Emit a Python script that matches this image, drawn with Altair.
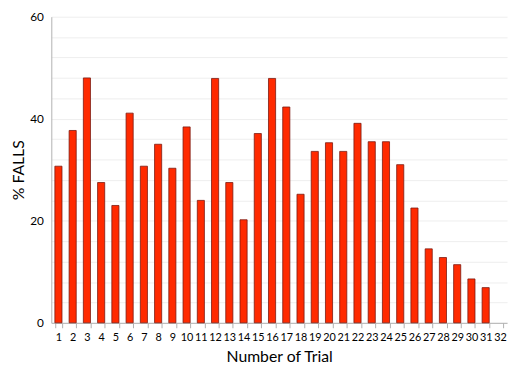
import altair as alt
import pandas as pd

trials = list(range(1, 33))
falls = [30.7, 37.7, 48.0, 27.5, 23.0, 41.1, 30.7, 35.0, 30.3, 38.4,
         24.0, 47.9, 27.5, 20.2, 37.1, 47.9, 42.3, 25.2, 33.6, 35.3,
         33.6, 39.1, 35.5, 35.5, 31.0, 22.5, 14.5, 12.8, 11.4, 8.6,
         6.9, None]

df = pd.DataFrame({"trial": [str(t) for t in trials], "falls": falls})

font = "Lato"

chart = alt.Chart(df).mark_bar(
    color="#ff2a00", stroke="#7a1a10", strokeWidth=0.8
).encode(
    x=alt.X("trial:N", sort=[str(t) for t in trials],
            scale=alt.Scale(paddingInner=0.5, paddingOuter=0.25),
            axis=alt.Axis(title="Number of Trial", labelAngle=0, tickBand="extent",
                          domainColor="#b0b0b0", tickColor="#b0b0b0", tickSize=5,
                          labelFont=font, labelFontSize=11, labelColor="#000000",
                          labelPadding=4, titleFont=font, titleFontSize=16,
                          titleFontWeight="normal", titleColor="#000000",
                          titlePadding=6, grid=False)),
    y=alt.Y("falls:Q", scale=alt.Scale(domain=[0, 60], nice=False),
            axis=alt.Axis(title="% FALLS", values=list(range(0, 61, 4)),
                          labelExpr="datum.value % 20 == 0 ? datum.label : ''",
                          grid=True, gridColor="#eeeeee", gridWidth=1,
                          domainColor="#b0b0b0", tickSize=0,
                          labelFont=font, labelFontSize=12, labelColor="#000000",
                          labelPadding=8, titleFont=font, titleFontSize=16,
                          titleFontWeight="normal", titleColor="#000000",
                          titlePadding=3)),
).properties(
    width=463, height=311,
    autosize=alt.AutoSizeParams(type="none"),
    padding={"left": 44, "top": 6, "right": 2, "bottom": 40},
).configure_view(stroke=None)

chart.save("out.html", embed_options={"renderer": "svg", "actions": False})
